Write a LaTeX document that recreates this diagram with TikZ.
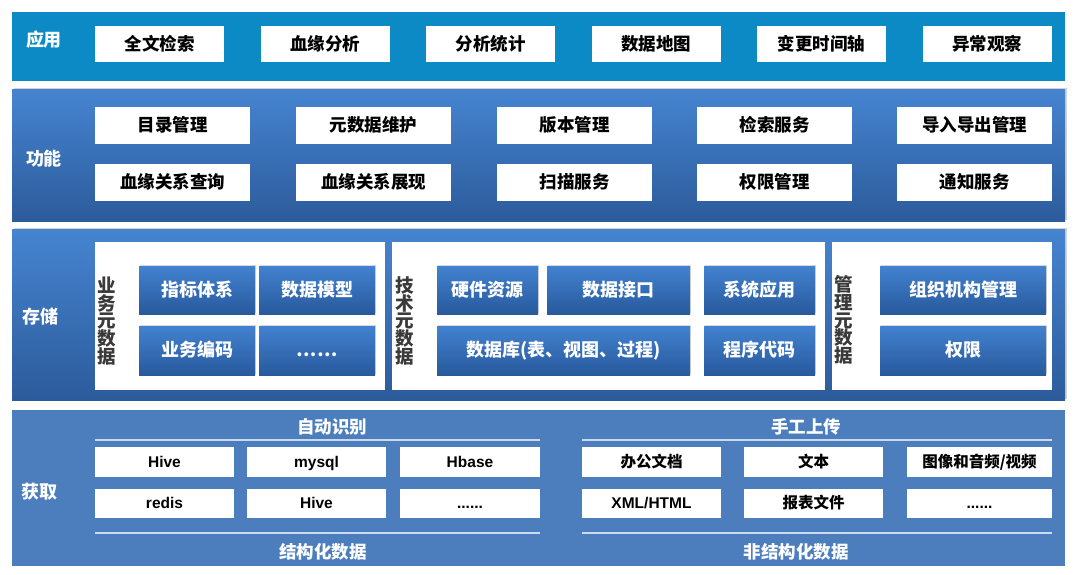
\documentclass[tikz,border=0pt]{standalone}
\usepackage{fontspec}
\setmainfont{Noto Sans CJK SC}
\newfontfamily\latin{Liberation Sans}
\usetikzlibrary{shadows}
\definecolor{appblue}{HTML}{0B8AC6}
\definecolor{gtop}{HTML}{4684D0}
\definecolor{gbot}{HTML}{2C5B9B}
\definecolor{btop}{HTML}{4282D0}
\definecolor{bbot}{HTML}{28599C}
\definecolor{acqblue}{HTML}{4C7EBE}
\definecolor{lbl}{HTML}{3A3A3A}
\definecolor{lineclr}{HTML}{CBDAEE}
\newcommand\bx[7]{\node[#2, minimum width={(#5)-(#3)}, minimum height={(#6)-(#4)}, anchor=north west] (#1) at (#3,#4) {#7};}
\tikzset{
  every node/.style={inner sep=0pt, outer sep=0pt},
  band/.style={draw=none},
  gband/.style={top color=gtop, bottom color=gbot, drop shadow={shadow xshift=1.5pt, shadow yshift=1.5pt, opacity=0.35}},
  wbox/.style={text height=14.9pt, text depth=2.6pt, fill=white, text=black, font=\bfseries\fontsize{17.5}{17.5}\selectfont},
  sbox/.style={text height=13.2pt, text depth=2.3pt, fill=white, text=black, font=\bfseries\fontsize{15.5}{15.5}\selectfont},
  panel/.style={fill=white},
  bbox/.style={text height=15.3pt, text depth=2.7pt, top color=btop, bottom color=bbot, text=white, font=\bfseries\fontsize{18}{18}\selectfont, drop shadow={shadow xshift=1pt, shadow yshift=1pt, opacity=0.3}},
  bandlabel/.style={text height=15.3pt, text depth=2.7pt, text=white, font=\bfseries\fontsize{18}{18}\selectfont},
  vlabel/.style={text=lbl, align=center, font=\bfseries\fontsize{18.5}{17.8}\selectfont},
  hdr/.style={text height=14.9pt, text depth=2.6pt, text=white, font=\bfseries\fontsize{17.5}{17.5}\selectfont},
  sep/.style={draw=lineclr, line width=1.6pt},
}
\begin{document}
\begin{tikzpicture}[x=1pt,y=-1pt]
\useasboundingbox (0,0) rectangle (1080,575);
\fill[white] (0,0) rectangle (1080,575);
% bands
\bx{app}{band, fill=appblue}{12}{12}{1065}{81}{}
\bx{fun}{gband}{12}{90}{1065}{222}{}
\bx{sto}{gband}{12}{230}{1065}{400}{}
\bx{acq}{band, fill=acqblue}{12}{410}{1065}{566}{}
\node[bandlabel] (lapp) at (44,40) {应用};
\node[bandlabel] (lfun) at (44,159) {功能};
\node[bandlabel] (lsto) at (40,317) {存储};
\node[bandlabel] (lacq) at (39,492) {获取};
% application
\bx{a1}{wbox}{95}{26}{224}{62}{全文检索}
\bx{a2}{wbox}{260.5}{26}{389.5}{62}{血缘分析}
\bx{a3}{wbox}{426}{26}{555}{62}{分析统计}
\bx{a4}{wbox}{591.5}{26}{720.5}{62}{数据地图}
\bx{a5}{wbox}{757}{26}{886}{62}{变更时间轴}
\bx{a6}{wbox}{922.5}{26}{1051.5}{62}{异常观察}
% functions
\bx{f1}{wbox}{95}{107}{250}{144}{目录管理}
\bx{f2}{wbox}{296}{107}{451}{144}{元数据维护}
\bx{f3}{wbox}{497}{107}{652}{144}{版本管理}
\bx{f4}{wbox}{697}{107}{852}{144}{检索服务}
\bx{f5}{wbox}{897}{107}{1052}{144}{导入导出管理}
\bx{f6}{wbox}{95}{164}{250}{201}{血缘关系查询}
\bx{f7}{wbox}{296}{164}{451}{201}{血缘关系展现}
\bx{f8}{wbox}{497}{164}{652}{201}{扫描服务}
\bx{f9}{wbox}{697}{164}{852}{201}{权限管理}
\bx{f10}{wbox}{897}{164}{1052}{201}{通知服务}
% storage panels
\bx{p1}{panel}{95}{242}{385}{390}{}
\bx{p2}{panel}{392}{242}{825}{390}{}
\bx{p3}{panel}{832}{242}{1052}{390}{}
\node[vlabel] (v1) at (107,321) {业\\务\\元\\数\\据};
\node[vlabel] (v2) at (405,321) {技\\术\\元\\数\\据};
\node[vlabel] (v3) at (844,320) {管\\理\\元\\数\\据};
\bx{s1}{bbox}{139}{266}{255}{314}{指标体系}
\bx{s2}{bbox}{259}{266}{375}{314}{数据模型}
\bx{s3}{bbox}{139}{326}{255}{375}{业务编码}
\bx{s4}{bbox}{259}{326}{375}{375}{……}
\bx{s5}{bbox}{437}{266}{538}{314}{硬件资源}
\bx{s6}{bbox}{547}{266}{690}{314}{数据接口}
\bx{s7}{bbox}{704}{266}{815}{314}{系统应用}
\bx{s8}{bbox}{437}{326}{690}{375}{数据库(表、视图、过程)}
\bx{s9}{bbox}{704}{326}{815}{375}{程序代码}
\bx{s10}{bbox}{880}{266}{1046}{314}{组织机构管理}
\bx{s11}{bbox}{880}{326}{1046}{375}{权限}
% acquisition
\node[hdr] (h1) at (332,427) {自动识别};
\node[hdr] (h2) at (323,552) {结构化数据};
\node[hdr] (h3) at (806,427) {手工上传};
\node[hdr] (h4) at (796,552) {非结构化数据};
\coordinate (l1a) at (95,440); \coordinate (l1b) at (540,440);
\coordinate (l2a) at (95,533); \coordinate (l2b) at (540,533);
\coordinate (l3a) at (582,440); \coordinate (l3b) at (1052,440);
\coordinate (l4a) at (582,533); \coordinate (l4b) at (1052,533);
\draw[sep] (l1a) -- (l1b);
\draw[sep] (l2a) -- (l2b);
\draw[sep] (l3a) -- (l3b);
\draw[sep] (l4a) -- (l4b);
\bx{g1}{sbox}{95}{447}{234}{477}{\latin Hive}
\bx{g2}{sbox}{247}{447}{386}{477}{\latin mysql}
\bx{g3}{sbox}{400}{447}{540}{477}{\latin Hbase}
\bx{g4}{sbox}{95}{489}{234}{518}{\latin redis}
\bx{g5}{sbox}{247}{489}{386}{518}{\latin Hive}
\bx{g6}{sbox}{400}{489}{540}{518}{\latin ......}
\bx{u1}{sbox}{582}{447}{721}{477}{办公文档}
\bx{u2}{sbox}{744}{447}{883}{477}{文本}
\bx{u3}{sbox}{907}{447}{1052}{477}{图像和音频/视频}
\bx{u4}{sbox}{582}{489}{721}{518}{\latin XML/HTML}
\bx{u5}{sbox}{744}{489}{883}{518}{报表文件}
\bx{u6}{sbox}{907}{489}{1052}{518}{\latin ......}
\end{tikzpicture}
\end{document}
